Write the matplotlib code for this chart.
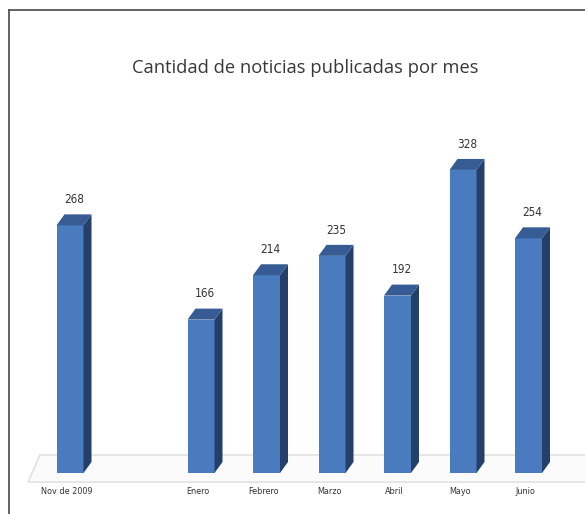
import numpy as np
import matplotlib
matplotlib.use("Agg")
import matplotlib.pyplot as plt
from matplotlib.patches import Polygon
from matplotlib.lines import Line2D

# datos
meses = ["Nov de 2009", "", "Enero", "Febrero", "Marzo", "Abril", "Mayo", "Junio"]
noticias = [268, np.nan, 166, 214, 235, 192, 328, 254]
titulo = "Cantidad de noticias publicadas por mes"

c_frente = "#4a7bbf"
c_lado = "#243f69"
c_techo = "#365c93"

fig = plt.figure(figsize=(5.85, 5.14), dpi=100)
ax = fig.add_axes([0, 0, 1, 1])

paso = 65.5   # px por categoria
escala = 0.924  # px por noticia
x0, y0 = 70, 41
ax.set_xlim(-x0 / paso, (585 - x0) / paso)
ax.set_ylim(-y0 / escala, (514 - y0) / escala)
ax.axis("off")

ancho = 27 / paso
dx = 8 / paso
dy = 11 / escala

# piso
piso = Polygon([(-0.64, -9.8), (-0.46, 19.5), (9, 19.5), (9, -9.8)],
               closed=True, facecolor="#fbfbfb", edgecolor="#dcdcdc", lw=1, zorder=1)
ax.add_patch(piso)

x = np.arange(len(meses))
for i, v in zip(x, noticias):
    if np.isnan(v):
        continue
    ax.bar(i, v, width=ancho, color=c_frente, zorder=3)
    der = i + ancho / 2
    izq = i - ancho / 2
    ax.add_patch(Polygon([(der, 0), (der + dx, dy), (der + dx, v + dy), (der, v)],
                         closed=True, facecolor=c_lado, edgecolor="none", zorder=3))
    ax.add_patch(Polygon([(izq, v), (izq + dx, v + dy), (der + dx, v + dy), (der, v)],
                         closed=True, facecolor=c_techo, edgecolor="none", zorder=3))
    ax.annotate(str(int(v)), (i + dx / 2, v + dy), xytext=(0, 6), textcoords="offset points",
                ha="center", va="bottom", fontsize=8.5, color="#333333",
                fontstretch="condensed", family=["DejaVu Sans"])

for i, m in zip(x, meses):
    ax.annotate(m, (i, 0), xytext=(-2, -10), textcoords="offset points",
                ha="center", va="top", fontsize=6.5, color="#333333",
                fontstretch="condensed", family=["DejaVu Sans"])

fig.text(305 / 585, 1 - 68 / 514, titulo, ha="center", va="center",
         fontsize=13.2, color="#383838", family=["Open Sans", "DejaVu Sans"])

# marco
fig.add_artist(Line2D([9 / 585, 9 / 585], [0, 1 - 10 / 514], color="#555555", lw=1.3))
fig.add_artist(Line2D([9 / 585, 1], [1 - 10 / 514, 1 - 10 / 514], color="#555555", lw=1.3))

fig.savefig("out.png", dpi=100)
